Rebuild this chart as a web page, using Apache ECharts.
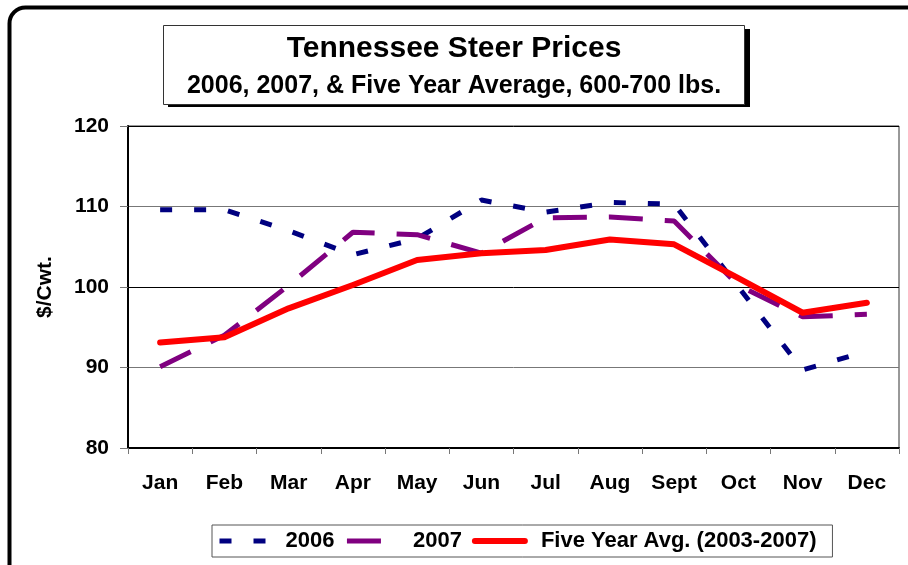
<!DOCTYPE html>
<html>
<head>
<meta charset="utf-8">
<script src="https://cdn.jsdelivr.net/npm/echarts@6/dist/echarts.min.js"></script>
<style>
  html, body { margin: 0; padding: 0; background: #fff; }
  #chart { width: 908px; height: 565px; }
</style>
</head>
<body>
<div id="chart"></div>
<script>
const months = ['Jan', 'Feb', 'Mar', 'Apr', 'May', 'Jun', 'Jul', 'Aug', 'Sept', 'Oct', 'Nov', 'Dec']
const prices2006 = [109.6, 109.6, 107.0, 104.0, 106.0, 110.8, 109.3, 110.5, 110.3, 100.0, 89.7, 92.0]
const prices2007 = [90.1, 94.0, 100.2, 106.8, 106.5, 104.2, 108.6, 108.7, 108.2, 100.2, 96.3, 96.6]
const fiveYearAvg = [93.1, 93.75, 97.35, 100.25, 103.35, 104.2, 104.6, 105.9, 105.3, 101.1, 96.8, 98.05]
const seriesNames = ['2006', '2007', 'Five Year Avg. (2003-2007)']
const yTicks = [80, 90, 100, 110, 120]

const font = '"Liberation Sans", Arial, sans-serif'
const chart = echarts.init(document.getElementById('chart'), null, { renderer: 'canvas' })

chart.setOption({
  backgroundColor: '#fff',
  animation: false,
  textStyle: { fontFamily: font },
  graphic: [
    {
      // outer chart frame
      type: 'rect',
      z: 100,
      shape: { x: 9.5, y: 7.5, width: 1000, height: 700, r: 16 },
      style: { fill: 'none', stroke: '#000', lineWidth: 4 },
    },
    {
      // drop shadow behind the title box
      type: 'rect',
      z: 0,
      shape: { x: 168, y: 29, width: 582, height: 78 },
      style: { fill: '#000' },
    },
  ],
  title: {
    text: 'Tennessee Steer Prices',
    subtext: '2006, 2007, & Five Year Average, 600-700 lbs.',
    left: 'center',
    top: 25,
    z: 5,
    padding: [6, 24, 4, 24],
    itemGap: 4,
    backgroundColor: '#fff',
    borderColor: '#333',
    borderWidth: 1,
    textStyle: { fontFamily: font, fontSize: 30, fontWeight: 'bold', color: '#000', lineHeight: 36 },
    subtextStyle: { fontFamily: font, fontSize: 25, fontWeight: 'bold', color: '#000', lineHeight: 30 },
  },
  legend: {
    left: 212,
    top: 525,
    padding: [4, 16, 4, 5],
    itemGap: 10,
    itemWidth: 50,
    itemHeight: 14,
    borderColor: '#555',
    borderWidth: 1,
    itemStyle: { opacity: 0 },
    lineStyle: { width: 5 },
    textStyle: { fontFamily: font, fontSize: 22, fontWeight: 'bold', color: '#000', lineHeight: 24, padding: [0, 0, 0, 11] },
    data: [
      { name: seriesNames[0] },
      { name: seriesNames[1] },
      { name: seriesNames[2], lineStyle: { width: 6, cap: 'round' } },
    ],
  },
  grid: { left: 128, right: 9, top: 126, bottom: 117, show: true, borderColor: '#333', borderWidth: 1 },
  xAxis: {
    type: 'category',
    data: months,
    axisLine: { lineStyle: { color: '#000', width: 2 } },
    axisTick: { show: true, length: 6, lineStyle: { color: '#777', width: 1 } },
    axisLabel: { fontFamily: font, fontSize: 21, fontWeight: 'bold', color: '#000', margin: 25, interval: 0 },
  },
  yAxis: {
    type: 'value',
    min: yTicks[0],
    max: yTicks[yTicks.length - 1],
    interval: 10,
    name: '$/Cwt.',
    nameLocation: 'middle',
    nameRotate: 90,
    nameGap: 72,
    nameTextStyle: { fontFamily: font, fontSize: 21, fontWeight: 'bold', color: '#000' },
    axisLine: { show: true, lineStyle: { color: '#000', width: 2 } },
    axisTick: { show: true, length: 8, lineStyle: { color: '#777', width: 1 } },
    axisLabel: { fontFamily: font, fontSize: 21, fontWeight: 'bold', color: '#000', margin: 19 },
    splitLine: { show: true, lineStyle: { color: ['#000', '#777', '#000', '#777', '#000'], width: 1 } },
  },
  series: [
    {
      name: seriesNames[0],
      type: 'line',
      data: prices2006,
      symbol: 'none',
      lineStyle: { color: '#000080', width: 5, type: [12, 22] },
      itemStyle: { color: '#000080' },
    },
    {
      name: seriesNames[1],
      type: 'line',
      data: prices2007,
      symbol: 'none',
      lineStyle: { color: '#800080', width: 5, type: [34, 22] },
      itemStyle: { color: '#800080' },
    },
    {
      name: seriesNames[2],
      type: 'line',
      data: fiveYearAvg,
      symbol: 'none',
      lineStyle: { color: '#ff0000', width: 6, cap: 'round', join: 'round' },
      itemStyle: { color: '#ff0000' },
    },
  ],
})
</script>
</body>
</html>
